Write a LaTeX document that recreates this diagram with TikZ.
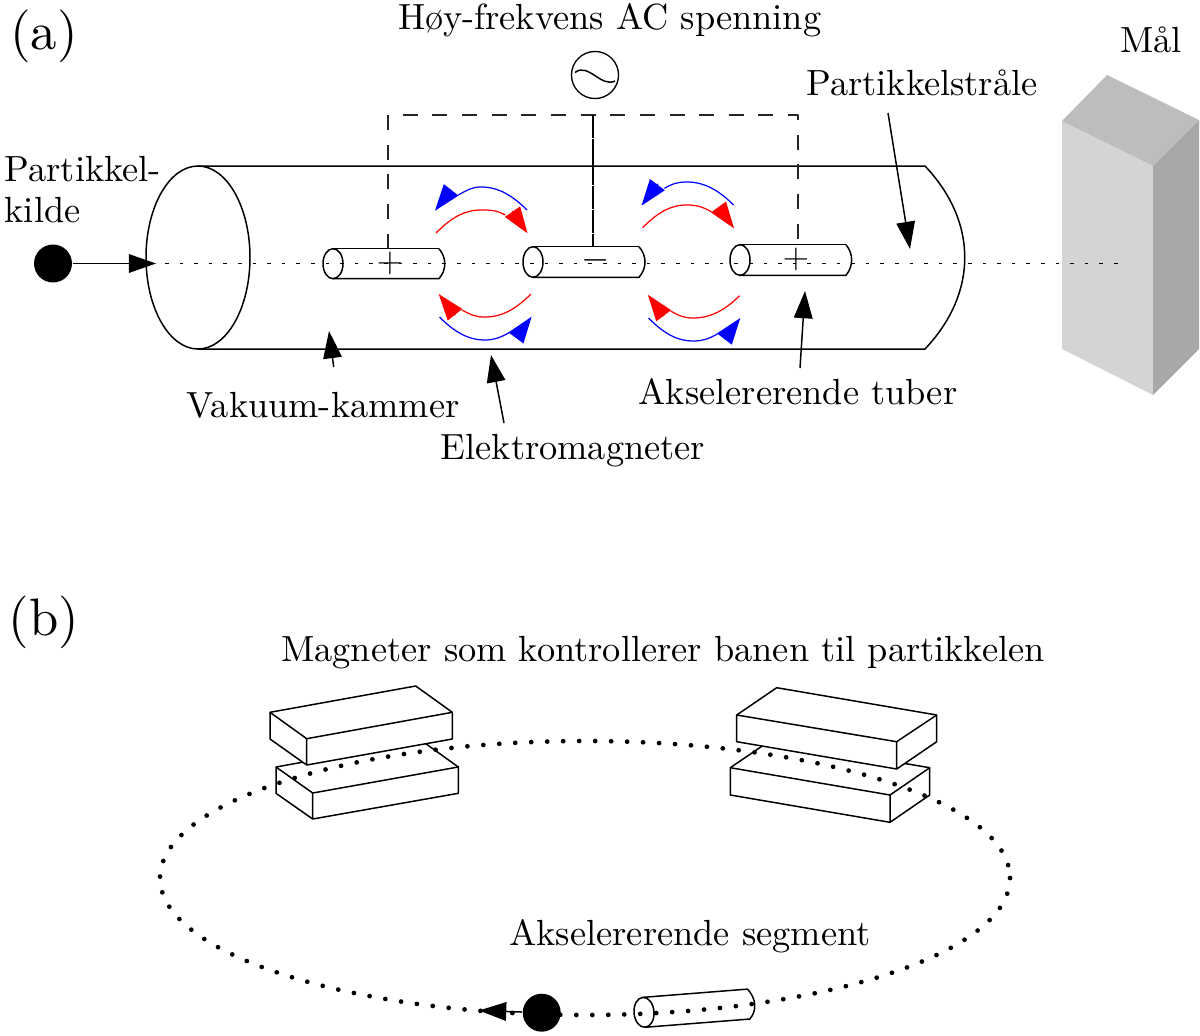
\documentclass[tikz,border=0pt]{standalone}
\usepackage{fontspec}
\setmainfont{lmroman10-regular.otf}
\usetikzlibrary{arrows.meta}
\definecolor{facefront}{gray}{0.83}
\definecolor{facetop}{gray}{0.74}
\definecolor{faceside}{gray}{0.66}
\tikzset{
  x=0.02cm, y=-0.02cm,
  every path/.style={line width=0.85pt, line join=round},
  lbl/.style={inner sep=0pt, font=\fontsize{20.7}{22.9}\selectfont},
  panel/.style={inner sep=0pt, font=\fontsize{30}{34}\selectfont},
  sign/.style={inner sep=0pt, font=\fontsize{20.7}{24}\selectfont},
  pointer/.style={-{Triangle[length=15.5pt,width=10.6pt]}},
  beam/.style={dash pattern=on 2pt off 6.31pt, line width=0.85pt},
  orbit/.style={line cap=round, dash pattern=on 0pt off 9.1pt, line width=2.7pt},
  supply/.style={dash pattern=on 8.54pt off 8.34pt, line width=0.75pt, black!85},
  feed/.style={dash pattern=on 13pt off 0.5pt, line width=0.75pt},
  fieldarc/.style={line width=0.7pt},
  fieldhead/.style={-{Triangle[length=15pt,width=10.4pt]}, line width=0.7pt},
  particle/.style={circle, fill=black, minimum size=21.6pt, inner sep=0pt},
  magnet/.style={fill=white},
}
% Drift tube: near end ellipse at (#1,mid), straight body to #2, slight bulge to #3
\newcommand{\drifttube}[5]{%
  \draw (#2,#4) .. controls (#3,{#4+(#5-#4)*0.3}) and (#3,{#4+(#5-#4)*0.7}) .. (#2,#5) -- (#1,#5);
  \draw (#1,#4) -- (#2,#4);
  \draw (#1,{(#4+#5)/2}) ellipse [x radius=10, y radius={(#5-#4)/2}];
}
% Field arc from <p>s over the apex <p>a to <p>c, with its head running <p>m to <p>t
\newcommand{\fieldloop}[4]{%
  \draw[fieldarc, #1] (#2s) .. controls +({#3*15},{#4*15}) and +({-#3*17},0) .. (#2a)
    .. controls +({#3*9},0) and +({-#3*9},{#4*5}) .. (#2c);
  \draw[fieldhead, #1] (#2m) -- (#2t);
}
\begin{document}
\begin{tikzpicture}
\useasboundingbox (0,0) rectangle (1200,1035);

% ---------- (a) linear accelerator ----------
\node[panel] (a) at (44,36) {(a)};

% target block
\fill[facefront] (1062,121) -- (1153,166) -- (1153,395) -- (1062,349) -- cycle;
\fill[facetop] (1062,121) -- (1107,75) -- (1199,120) -- (1153,166) -- cycle;
\fill[faceside] (1153,166) -- (1199,120) -- (1199,349) -- (1153,395) -- cycle;

% vacuum chamber
\draw (198,257.5) ellipse [x radius=52, y radius=91.5];
\draw (198,166) -- (925,166) .. controls (978,222) and (978,293) .. (925,349) -- (198,349);

% beam line
\coordinate (beamstart) at (165,263.5);
\coordinate (beamend) at (1120,263.5);
\draw[beam] (beamstart) -- (beamend);

% drift tubes
\drifttube{333}{439}{446.7}{248.7}{278.7}
\drifttube{533}{639}{647}{246.7}{277.3}
\drifttube{740}{846}{853.5}{244.7}{275.3}
\node[sign] (plusa) at (390,263) {$+$};
\node[sign] (minusb) at (595.5,260) {$-$};
\node[sign] (plusc) at (796,259) {$+$};

% AC supply
\node[circle, draw, line width=0.75pt, minimum size=26.8pt, inner sep=0pt] (ac) at (595,75) {};
\draw (575,72.5) .. controls (588,62) and (601,88) .. (615,81);
\coordinate (busl) at (388,115);
\coordinate (busm) at (593,115);
\coordinate (busr) at (798,115);
\coordinate (tubea) at (388,248.7);
\coordinate (tubeb) at (593,246.7);
\coordinate (tubec) at (798,244.7);
\draw[supply] (tubea) -- (busl) -- (busr) -- (tubec);
\draw[feed] (busm) -- (tubeb);

% magnetic field arcs: points of each arc and head
\coordinate (uas) at (527,210);     \coordinate (uaa) at (481,187);   \coordinate (uac) at (458.3,195);
\coordinate (uam) at (451.3,189.7); \coordinate (uat) at (435,210.7);
\coordinate (ubs) at (436,233);     \coordinate (uba) at (481,210);   \coordinate (ubc) at (505.3,215);
\coordinate (ubm) at (512.2,211.2); \coordinate (ubt) at (527.5,233.3);
\coordinate (ucs) at (733.6,205);   \coordinate (uca) at (687,182);   \coordinate (ucc) at (664.4,188.3);
\coordinate (ucm) at (658,183.8);   \coordinate (uct) at (641.5,205.7);
\coordinate (uds) at (642.6,227.7); \coordinate (uda) at (687,205);   \coordinate (udc) at (711.4,211.7);
\coordinate (udm) at (718.5,207);   \coordinate (udt) at (734,228.3);
\coordinate (las) at (531,294);     \coordinate (laa) at (485,317);   \coordinate (lac) at (462,310);
\coordinate (lam) at (455.4,315.2); \coordinate (lat) at (438.7,294);
\coordinate (lbs) at (439.5,317);   \coordinate (lba) at (485,340);   \coordinate (lbc) at (509,332.7);
\coordinate (lbm) at (515.9,338);   \coordinate (lbt) at (531.6,316.7);
\coordinate (lcs) at (739.5,295.7); \coordinate (lca) at (693,318);   \coordinate (lcc) at (670.7,311);
\coordinate (lcm) at (663.9,316);   \coordinate (lct) at (647.8,294.7);
\coordinate (lds) at (648.5,318);   \coordinate (lda) at (693.4,341); \coordinate (ldc) at (717.3,334);
\coordinate (ldm) at (724.4,339);   \coordinate (ldt) at (740.3,318);
\fieldloop{blue}{ua}{-1}{-1}
\fieldloop{red}{ub}{1}{-1}
\fieldloop{blue}{uc}{-1}{-1}
\fieldloop{red}{ud}{1}{-1}
\fieldloop{red}{la}{-1}{1}
\fieldloop{blue}{lb}{1}{1}
\fieldloop{red}{lc}{-1}{1}
\fieldloop{blue}{ld}{1}{1}

% source particle
\node[particle] (source) at (53,263.5) {};
\coordinate (chamberin) at (156,263.5);
\draw[pointer] (source) -- (chamberin);

% labels and their pointers
\node[lbl] (title) at (610,20.5) {Høy-frekvens AC spenning};
\node[lbl] (target) at (1151,40) {Mål};
\node[lbl] (beamlabel) at (922,83) {Partikkelstråle};
\node[lbl, align=left, anchor=north west] (srclabel) at (4,156) {Partikkel-\\kilde};
\node[lbl] (vaclabel) at (323,405) {Vakuum-kammer};
\node[lbl] (maglabel) at (573,450.5) {Elektromagneter};
\node[lbl] (tubelabel) at (798,392) {Akselererende tuber};

\coordinate (beamtail) at (888,113); \coordinate (beamtip) at (910,249);
\coordinate (vactail) at (333.7,367); \coordinate (vactip) at (329,331);
\coordinate (magtail) at (504,423); \coordinate (magtip) at (491,355);
\coordinate (tubetail) at (800,368); \coordinate (tubetip) at (805,291);
\draw[pointer] (beamtail) -- (beamtip);
\draw[pointer] (vactail) -- (vactip);
\draw[pointer] (magtail) -- (magtip);
\draw[pointer] (tubetail) -- (tubetip);

% ---------- (b) circular accelerator ----------
\node[panel] (b) at (44,622) {(b)};
\node[lbl] (magnets) at (663,653) {Magneter som kontrollerer banen til partikkelen};
\node[lbl] (segment) at (690,936) {Akselererende segment};

% left magnet pair
\draw[magnet] (276,767) -- (421.7,740.7) -- (458.3,767) -- (458.3,793.3) -- (312.7,819) -- (276,793.3) -- cycle;
\draw (276,767) -- (312.7,793) -- (458.3,767) (312.7,793) -- (312.7,819);
\draw[magnet] (270,712.3) -- (415.7,686) -- (452.3,712.3) -- (452.3,739) -- (306.7,765) -- (270,739) -- cycle;
\draw (270,712.3) -- (306.7,738.7) -- (452.3,712.3) (306.7,738.7) -- (306.7,765);

% right magnet pair
\draw[magnet] (730.3,767.7) -- (770,740.7) -- (929.7,767.7) -- (929.7,795) -- (890,822.3) -- (730.3,795) -- cycle;
\draw (730.3,767.7) -- (890,795) -- (929.7,767.7) (890,795) -- (890,822.3);
\draw[magnet] (736.7,715) -- (776.7,687.7) -- (936.7,715) -- (936.7,741.7) -- (896.7,769) -- (736.7,741.7) -- cycle;
\draw (736.7,715) -- (896.7,741.7) -- (936.7,715) (896.7,741.7) -- (896.7,769);

% accelerating segment, tilted slightly
\begin{scope}[shift={(644,1012.3)}, rotate=4.5]
  \draw (0,-15) -- (105,-15) .. controls (113,-5) and (113,7) .. (105,15) -- (0,15);
  \draw (0,0) ellipse [x radius=10, y radius=15];
\end{scope}

% particle orbit
\draw[orbit] (585,878) ellipse [x radius=425, y radius=137];

% orbiting particle
\node[particle] (bunch) at (541.7,1012.7) {};
\coordinate (bunchtip) at (479,1010.5);
\draw[pointer] (bunch) -- (bunchtip);
\end{tikzpicture}
\end{document}
